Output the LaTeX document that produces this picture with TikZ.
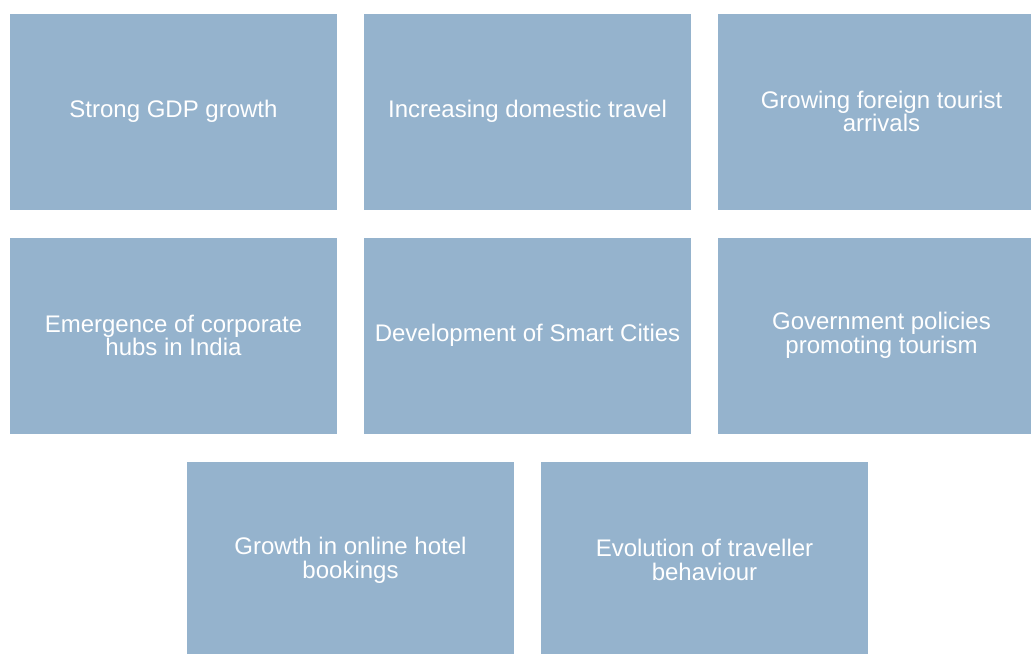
\documentclass[tikz,border=0pt]{standalone}
\usepackage{fontspec}
\setmainfont{Liberation Sans}
\usepackage{tikz}
\definecolor{boxblue}{RGB}{149,179,205}
\tikzset{driver/.style={fill=boxblue,draw=none,text=white,align=center,
  minimum width=245.25pt,minimum height=147pt,inner sep=0pt,
  font=\fontsize{18}{17.7}\selectfont}}
\begin{document}
\begin{tikzpicture}[x=0.75pt,y=-0.75pt]
\useasboundingbox(0,0)rectangle(1031,653);
\clip(0,0)rectangle(1031,653);
\node[driver](gdp)at(173.5,111.5){Strong GDP growth};
\node[driver](domestic)at(527.5,111.5){Increasing domestic travel};
\node[driver](foreign)at(881.5,111.5){Growing foreign tourist\\arrivals};
\node[driver](hubs)at(173.5,335.5){Emergence of corporate\\hubs in India};
\node[driver](smart)at(527.5,335.5){Development of Smart Cities};
\node[driver](policy)at(881.5,335.5){Government policies\\promoting tourism};
\node[driver](online)at(350.5,560){Growth in online hotel\\bookings};
\node[driver](traveller)at(704.5,560){Evolution of traveller\\behaviour};
\end{tikzpicture}
\end{document}
